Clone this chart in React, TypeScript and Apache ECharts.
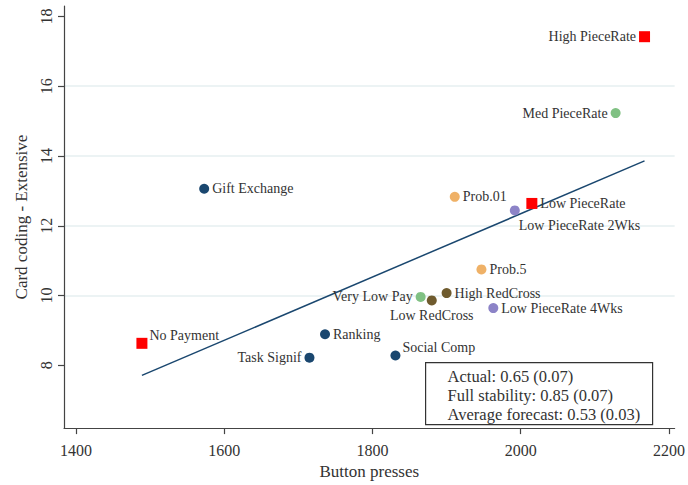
import React, { useEffect, useRef } from "react";
import * as echarts from "echarts";

const names = [
  "High PieceRate", "Med PieceRate", "Gift Exchange", "Prob.01", "Low PieceRate",
  "Low PieceRate 2Wks", "Prob.5", "High RedCross", "Very Low Pay", "Low RedCross",
  "Low PieceRate 4Wks", "Social Comp", "Ranking", "Task Signif", "No Payment",
];
const buttonPresses = [2167, 2128, 1573, 1911, 2015, 1992, 1947, 1900, 1865, 1880, 1963, 1831, 1736, 1715, 1489];
const cardCoding = [17.42, 15.23, 13.06, 12.83, 12.64, 12.44, 10.75, 10.07, 9.96, 9.86, 9.64, 8.28, 8.89, 8.22, 8.63];
const groups = ["piece", "green", "navy", "orange", "piece", "purple", "orange", "brown", "green", "brown", "purple", "navy", "navy", "navy", "piece"];

const fitX = [1489, 2167];
const fitY = [7.71, 13.86];

const xTicks = [1400, 1600, 1800, 2000, 2200];
const yTicks = [8, 10, 12, 14, 16, 18];

const boxLines = ["Actual: 0.65 (0.07)", "Full stability: 0.85 (0.07)", "Average forecast: 0.53 (0.03)"];

const FONT = "'Liberation Serif', 'Times New Roman', serif";
const NAVY = "#1a476f";
const groupColors: Record<string, string> = {
  piece: "#ff0000",
  green: "#80c183",
  navy: "#1a476f",
  orange: "#efb167",
  purple: "#8c83c7",
  brown: "#6f5b2e",
};

function labelFor(name: string): any {
  const base = { show: true, formatter: "{b}", color: "#333333", fontFamily: FONT, fontSize: 14 };
  switch (name) {
    case "High PieceRate":
    case "Med PieceRate":
    case "Very Low Pay":
    case "Task Signif":
      return { ...base, position: "left", distance: 3 };
    case "Low RedCross":
      return { ...base, position: "bottom", distance: 3 };
    case "Low PieceRate 2Wks":
      return { ...base, position: "right", distance: 3, offset: [-4, 15] };
    case "No Payment":
    case "Social Comp":
      return { ...base, position: "right", distance: 2, offset: [0, -8] };
    default:
      return { ...base, position: "right", distance: 3 };
  }
}

export default function App() {
  const ref = useRef<HTMLDivElement>(null);
  useEffect(() => {
    if (!ref.current) return;
    const chart = echarts.init(ref.current, null, { renderer: "svg" });
    const groupKeys = Object.keys(groupColors);
    const scatterSeries = groupKeys.map((g) => ({
      type: "scatter",
      name: g,
      symbol: g === "piece" ? "rect" : "circle",
      symbolSize: g === "piece" ? 11 : 10,
      itemStyle: { color: groupColors[g], opacity: 1 },
      z: 5,
      data: names
        .map((n, i) => ({ n, i }))
        .filter(({ i }) => groups[i] === g)
        .map(({ n, i }) => ({
          name: n,
          value: [buttonPresses[i], cardCoding[i]],
          label: labelFor(n),
        })),
    }));

    chart.setOption({
      animation: false,
      backgroundColor: "#ffffff",
      grid: { left: 64, right: 10, top: 6, bottom: 53, containLabel: false },
      xAxis: {
        type: "value",
        min: 1383.9,
        max: 2207.6,
        name: "Button presses",
        nameLocation: "middle",
        nameGap: 31,
        nameTextStyle: { fontFamily: FONT, fontSize: 17, color: "#333333" },
        axisLine: { show: true, onZero: false, lineStyle: { color: "#444444", width: 1.2 } },
        axisTick: { show: true, length: 6, customValues: xTicks, lineStyle: { color: "#444444", width: 1.2 } },
        axisLabel: {
          customValues: xTicks,
          formatter: (v: number) => String(v),
          margin: 14,
          fontFamily: FONT,
          fontSize: 16,
          color: "#333333",
        },
        splitLine: { show: false },
      },
      yAxis: {
        type: "value",
        min: 6.2,
        max: 18.3,
        splitNumber: 6,
        name: "Card coding - Extensive",
        nameLocation: "middle",
        nameRotate: 90,
        nameGap: 28,
        nameTextStyle: { fontFamily: FONT, fontSize: 17, color: "#333333" },
        axisLine: { show: true, onZero: false, lineStyle: { color: "#444444", width: 1.2 } },
        axisTick: { show: true, length: 6, customValues: yTicks, lineStyle: { color: "#444444", width: 1.2 } },
        axisLabel: {
          customValues: yTicks,
          formatter: (v: number) => String(v),
          rotate: 90,
          margin: 10,
          fontFamily: FONT,
          fontSize: 16,
          color: "#333333",
        },
        splitLine: { show: true, showMinLine: false, showMaxLine: false, lineStyle: { color: "#e6eff1", width: 1.5 } },
      },
      series: [
        {
          type: "line",
          data: fitX.map((x, i) => [x, fitY[i]]),
          symbol: "none",
          lineStyle: { color: NAVY, width: 1.5 },
          z: 3,
          silent: true,
        },
        ...scatterSeries,
      ],
      graphic: [
        {
          type: "group",
          left: 425,
          top: 362,
          z: 100,
          children: [
            {
              type: "rect",
              shape: { x: 0, y: 0, width: 227, height: 62 },
              style: { fill: "#ffffff", stroke: "#333333", lineWidth: 1.2 },
            },
            {
              type: "text",
              x: 22,
              y: 4,
              style: {
                text: boxLines.join("\n"),
                font: `16.5px ${FONT}`,
                fill: "#333333",
                lineHeight: 19,
              },
            },
          ],
        },
      ],
    });
    return () => chart.dispose();
  }, []);
  return <div ref={ref} style={{ width: 688, height: 485, position: "absolute", left: 0, top: 0 }} />;
}
